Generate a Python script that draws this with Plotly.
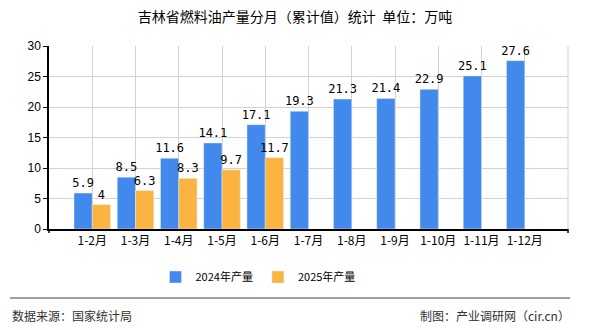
import plotly.graph_objects as go

categories = ["1-2月", "1-3月", "1-4月", "1-5月", "1-6月", "1-7月", "1-8月", "1-9月", "1-10月", "1-11月", "1-12月"]
values_2024 = [5.9, 8.5, 11.6, 14.1, 17.1, 19.3, 21.3, 21.4, 22.9, 25.1, 27.6]
values_2025 = [4, 6.3, 8.3, 9.7, 11.7, None, None, None, None, None, None]
y_ticks = [0, 5, 10, 15, 20, 25, 30]

blue = "#4189EC"
orange = "#FBB341"
label_font = dict(family="DejaVu Sans Mono, Liberation Mono, monospace", size=12, color="#000000")

def labels(vals):
    return ["" if v is None else (str(int(v)) if float(v).is_integer() else str(v)) for v in vals]

fig = go.Figure()
fig.add_trace(go.Bar(x=categories, y=values_2024, name="2024年产量", marker_color=blue,
                     text=labels(values_2024), textposition="outside", textfont=label_font,
                     constraintext="none", cliponaxis=False))
fig.add_trace(go.Bar(x=categories, y=values_2025, name="2025年产量", marker_color=orange,
                     text=labels(values_2025), textposition="outside", textfont=label_font,
                     constraintext="none", cliponaxis=False))

fig.update_layout(
    width=590, height=330,
    margin=dict(l=49, r=22, t=46, b=101),
    plot_bgcolor="white", paper_bgcolor="white",
    barmode="group", bargap=0.155, bargroupgap=0,
    font=dict(family="Noto Sans CJK SC, sans-serif", size=12, color="#000"),
    title=dict(text="吉林省燃料油产量分月（累计值）统计  单位：万吨", x=0.5, xanchor="center",
               y=1 - 17/330, yanchor="middle", font=dict(size=14, color="#000")),
    showlegend=True,
    legend=dict(orientation="h", x=(258 - 49) / 519, xanchor="center", y=(229 - 277) / 183,
                yanchor="middle", font=dict(size=11, color="#000"), itemwidth=30,
                bgcolor="rgba(0,0,0,0)"),
    uniformtext=dict(mode=False),
)
fig.update_xaxes(type="category", range=[-1, 11], showgrid=True, gridcolor="#D3D3D3", gridwidth=1,
                 showline=True, linecolor="#000", linewidth=1.5, ticks="",
                 tickfont=dict(size=12, color="#000"), fixedrange=True)
fig.update_yaxes(range=[0, 30], tickvals=y_ticks, showgrid=True, gridcolor="#D3D3D3", gridwidth=1,
                 showline=True, linecolor="#000", linewidth=1.5, ticks="outside", ticklen=4,
                 tickcolor="#000", tickfont=dict(family="Liberation Sans, Arial", size=12, color="#000"),
                 zeroline=False, fixedrange=True)

# right border gridline and end ticks of the x axis
fig.add_shape(type="line", xref="paper", yref="paper", x0=1, x1=1, y0=0, y1=1,
              line=dict(color="#D3D3D3", width=1))
for xp in (0, 1):
    fig.add_shape(type="line", xref="paper", yref="paper", x0=xp, x1=xp, y0=0, y1=-4/183,
                  line=dict(color="#000", width=1.5))

# footer
fig.add_shape(type="line", xref="paper", yref="paper", x0=(10 - 49) / 519, x1=(570 - 49) / 519,
              y0=(229 - 298) / 183, y1=(229 - 298) / 183, line=dict(color="#808080", width=1.5))
fig.add_annotation(text="数据来源：国家统计局", xref="paper", yref="paper", x=(10 - 49) / 519,
                   xanchor="left", y=(229 - 315) / 183, yanchor="middle", showarrow=False,
                   font=dict(size=12, color="#333"))
fig.add_annotation(text="制图：产业调研网（cir.cn）", xref="paper", yref="paper", x=(572 - 49) / 519,
                   xanchor="right", y=(229 - 315) / 183, yanchor="middle", showarrow=False,
                   font=dict(size=12, color="#333"))

fig.write_html("out.html")
